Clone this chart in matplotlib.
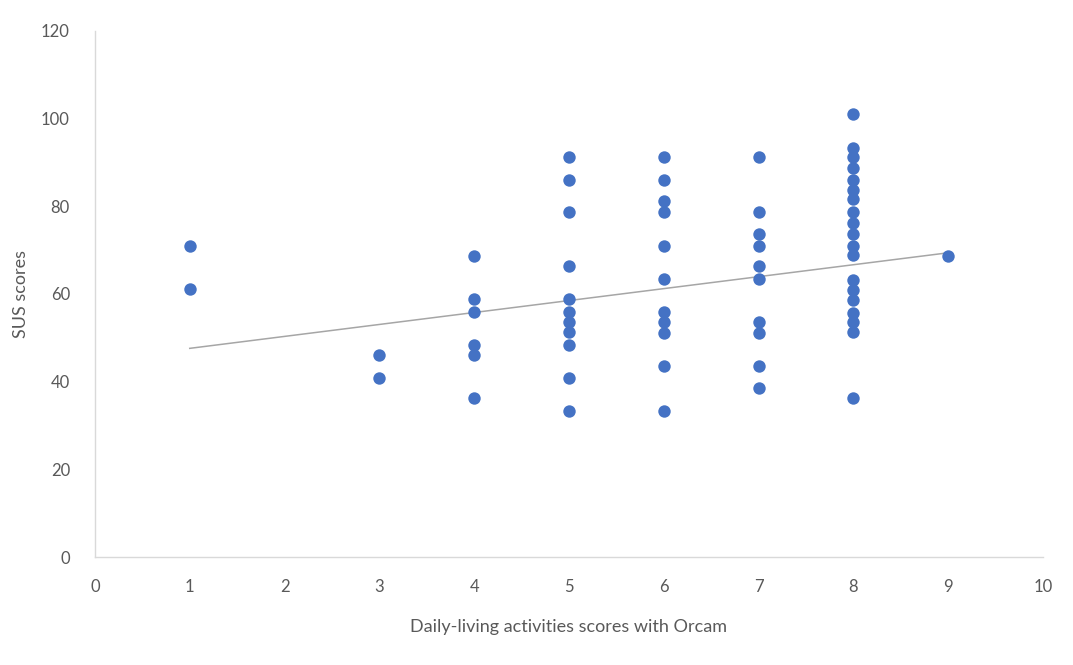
import numpy as np
import matplotlib
matplotlib.use("Agg")
import matplotlib.pyplot as plt

# daily-living activity score (x) and SUS score (y)
adl_1 = [1, 1]
sus_1 = [71.0, 61.1]
adl_3 = [3, 3]
sus_3 = [46.0, 40.8]
adl_4 = [4] * 6
sus_4 = [68.7, 58.8, 55.8, 48.3, 46.0, 36.2]
adl_5 = [5] * 11
sus_5 = [91.2, 85.9, 78.6, 66.3, 58.8, 56.0, 53.7, 51.4, 48.4, 40.8, 33.2]
adl_6 = [6] * 11
sus_6 = [91.2, 85.9, 81.3, 78.6, 71.0, 63.4, 56.0, 53.7, 51.2, 43.6, 33.2]
adl_7 = [7] * 10
sus_7 = [91.2, 78.6, 73.8, 71.0, 66.4, 63.4, 53.5, 51.2, 43.6, 38.5]
adl_8 = [8] * 19
sus_8 = [101.0, 93.4, 91.2, 88.8, 86.0, 83.7, 81.6, 78.6, 76.3, 73.6,
         71.0, 68.8, 63.2, 60.9, 58.7, 55.7, 53.5, 51.3, 36.2]
adl_9 = [9]
sus_9 = [68.7]

# linear trendline as shown (overlapping points hide part of the data)
trend_x = [1, 9]
trend_y = [47.6, 69.4]

x = np.array(adl_1 + adl_3 + adl_4 + adl_5 + adl_6 + adl_7 + adl_8 + adl_9, dtype=float)
y = np.array(sus_1 + sus_3 + sus_4 + sus_5 + sus_6 + sus_7 + sus_8 + sus_9)

plt.rcParams['font.family'] = ['Lato', 'DejaVu Sans']

fig = plt.figure(figsize=(10.73, 6.65), dpi=100)
ax = fig.add_axes([0.0885, 0.1624, 0.8835, 0.7910])

ax.scatter(x, y, s=80, color='#4472C4', zorder=3, linewidths=0)
ax.plot(trend_x, trend_y, color='#A6A6A6', lw=1.1, zorder=2)

ax.set_xlim(0, 10)
ax.set_ylim(0, 120)
ax.set_xticks(range(0, 11))
ax.set_yticks(range(0, 121, 20))

for s in ['top', 'right']:
    ax.spines[s].set_visible(False)
for s in ['left', 'bottom']:
    ax.spines[s].set_color('#D9D9D9')
    ax.spines[s].set_linewidth(1.0)

ax.tick_params(length=0, labelsize=12, labelcolor='#595959')
ax.tick_params(axis='x', pad=16)
ax.tick_params(axis='y', pad=18)

ax.set_xlabel('Daily-living activities scores with Orcam', fontsize=13,
              color='#595959', labelpad=17)
ax.set_ylabel('SUS scores', fontsize=13, color='#595959', labelpad=9)

fig.savefig('out.png', dpi=100)
